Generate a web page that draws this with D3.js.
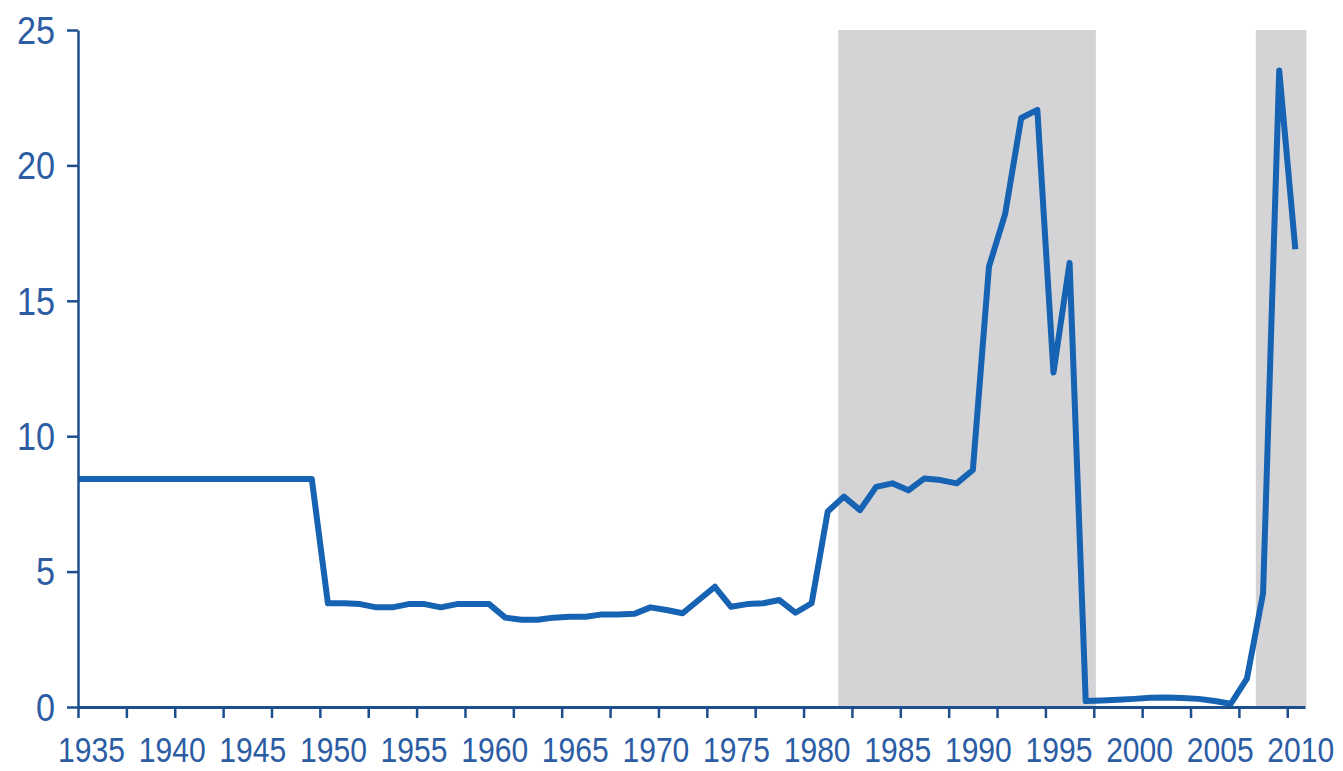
<!DOCTYPE html>
<html>
<head>
<meta charset="utf-8">
<script src="https://cdn.jsdelivr.net/npm/d3@7"></script>
<style>
  html, body { margin: 0; padding: 0; background: #ffffff; }
  svg { display: block; }
  .lbl text { font-family: "Liberation Sans", Arial, sans-serif; fill: #2b5ca4; }
</style>
</head>
<body>
<svg id="chart" width="1343" height="771"></svg>
<script>
// ---- data ----
const years = d3.range(1934, 2011);
const values = [
  8.42, 8.42, 8.42, 8.42, 8.42, 8.42, 8.42, 8.42, 8.42, 8.42, 8.42, 8.42, 8.42, 8.42, 8.42, 8.42, // 1934-1949
  3.83, 3.83, 3.80, 3.68, 3.68, 3.80, 3.80, 3.68, 3.80, 3.80,   // 1950-1959
  3.80, 3.30, 3.22, 3.22, 3.30, 3.33, 3.33, 3.42, 3.42, 3.44,   // 1960-1969
  3.68, 3.58, 3.46, 3.95, 4.44, 3.70, 3.80, 3.83, 3.95, 3.48,   // 1970-1979
  3.83, 7.22, 7.77, 7.27, 8.13, 8.26, 8.00, 8.44, 8.38, 8.26,   // 1980-1989
  8.75, 16.26, 18.2, 21.75, 22.05, 12.35, 16.4, 0.22, 0.24, 0.27, // 1990-1999
  0.30, 0.34, 0.35, 0.33, 0.30, 0.22, 0.12, 1.05, 4.2, 23.5,    // 2000-2009
  16.9                                                          // 2010
];
const shadedPeriods = [[1981.65, 1997.63], [2007.55, 2010.68]];
const yTicks = [0, 5, 10, 15, 20, 25];
const xTickMarks = d3.range(1934.5, 2010, 3);
const xLabelYears = d3.range(1935, 2011, 5);

// ---- layout ----
const svg = d3.select("#chart");
const mLeft = 78, mRight = 1305, mTop = 30, mBottom = 707;
const x = d3.scaleLinear().domain([1934.5, 2010.6]).range([mLeft, mRight]);
const y = d3.scaleLinear().domain([0, 25]).range([mBottom, mTop]);

const axisColor = "#1d4f8e";
const lineColor = "#1662b3";
const narrowX = 0.86, narrowY = 0.9;

// shading
svg.append("g").selectAll("rect").data(shadedPeriods).join("rect")
  .attr("x", d => x(d[0]))
  .attr("width", d => x(d[1]) - x(d[0]))
  .attr("y", y(25))
  .attr("height", y(0) - y(25))
  .attr("fill", "#d4d4d6");

// clip
svg.append("clipPath").attr("id", "plotclip").append("rect")
  .attr("x", mLeft).attr("y", 0).attr("width", 1343 - mLeft).attr("height", 771);

// line
const data = years.map((yr, i) => ({ yr, v: values[i] }));
svg.append("path")
  .datum(data)
  .attr("clip-path", "url(#plotclip)")
  .attr("fill", "none")
  .attr("stroke", lineColor)
  .attr("stroke-width", 6)
  .attr("stroke-linejoin", "round")
  .attr("d", d3.line().x(d => x(d.yr)).y(d => y(d.v)));

// y axis
const gy = svg.append("g").attr("class", "lbl")
  .attr("transform", `translate(${mLeft},0)`)
  .call(d3.axisLeft(y).tickValues(yTicks).tickSize(11).tickSizeOuter(0).tickPadding(12));
gy.select(".domain").attr("stroke", axisColor).attr("stroke-width", 2.5);
gy.selectAll(".tick line").attr("stroke", axisColor).attr("stroke-width", 2.5);
gy.selectAll(".tick text")
  .attr("font-size", 38)
  .attr("dy", "0.35em")
  .attr("x", -23 / narrowY)
  .attr("transform", `scale(${narrowY},1)`);

// x axis tick marks
const gx = svg.append("g")
  .attr("transform", `translate(0,${mBottom})`)
  .call(d3.axisBottom(x).tickValues(xTickMarks).tickSize(11).tickSizeOuter(0).tickFormat(""));
gx.select(".domain").attr("stroke", axisColor).attr("stroke-width", 3);
gx.selectAll(".tick line").attr("stroke", axisColor).attr("stroke-width", 2.5);

// x labels
const gl = svg.append("g").attr("class", "lbl")
  .attr("transform", `translate(0,${mBottom})`)
  .call(d3.axisBottom(x).tickValues(xLabelYears).tickSize(0).tickFormat(d3.format("d")));
gl.select(".domain").remove();
gl.selectAll(".tick text")
  .attr("font-size", 35)
  .attr("y", 55)
  .attr("dy", 0)
  .attr("x", 5 / narrowX)
  .attr("transform", `scale(${narrowX},1)`);
</script>
</body>
</html>
